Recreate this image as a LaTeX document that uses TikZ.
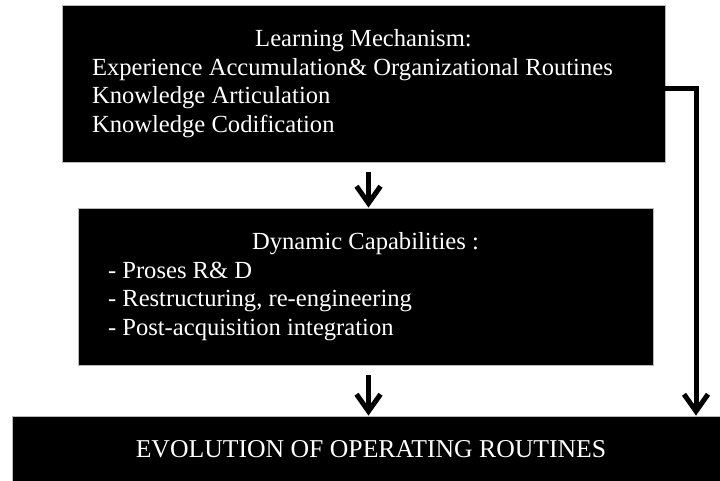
\documentclass[tikz,border=0pt]{standalone}
\usepackage{fontspec}
\setmainfont{Liberation Serif}
\usepackage{tikz}
\usetikzlibrary{
  positioning,
  calc,
  arrows.meta
}
\tikzstyle{box}=[fill=black, draw=gray!55, line width=0.8pt, text=white, inner sep=0pt,
  font=\fontsize{24.6}{28.5}\selectfont]
\tikzstyle{flow}=[-{Straight Barb[length=17pt,width=24pt]}, line width=5pt, black]

\begin{document}
\begin{tikzpicture}[x=1pt, y=-1pt]
    \useasboundingbox (0,0) rectangle (720,481);

    % 学習メカニズム
    \node[box, minimum width=603pt, minimum height=157pt] (learn) at (363.5,83.5)
      {\parbox{543pt}{\centering Learning Mechanism:\par\raggedright
        Experience Accumulation\& Organizational Routines\par
        Knowledge Articulation\par
        Knowledge Codification}};

    % ダイナミック・ケイパビリティ
    \node[box, minimum width=575pt, minimum height=157pt] (dyn) at (365.5,286.5)
      {\parbox{515pt}{\centering Dynamic Capabilities :\par\raggedright
        - Proses R\& D\par
        - Restructuring, re-engineering\par
        - Post-acquisition integration}};

    % 運用ルーティンの進化
    \node[box, minimum width=718pt, minimum height=66pt, font=\fontsize{25.7}{30}\selectfont]
      (evol) at (371,449) {EVOLUTION OF OPERATING ROUTINES};

    % 矢印の始点
    \coordinate (a1) at (368.5,172);
    \coordinate (a2) at (368.5,375);
    \coordinate (turn) at (696,89);

    % 矢印の描画
    \draw[flow] (a1) -- (a1 |- dyn.north);
    \draw[flow] (a2) -- (a2 |- evol.north);
    \draw[flow] (learn.east |- turn) -- (turn) -- (turn |- evol.north);
  \end{tikzpicture}
\end{document}
